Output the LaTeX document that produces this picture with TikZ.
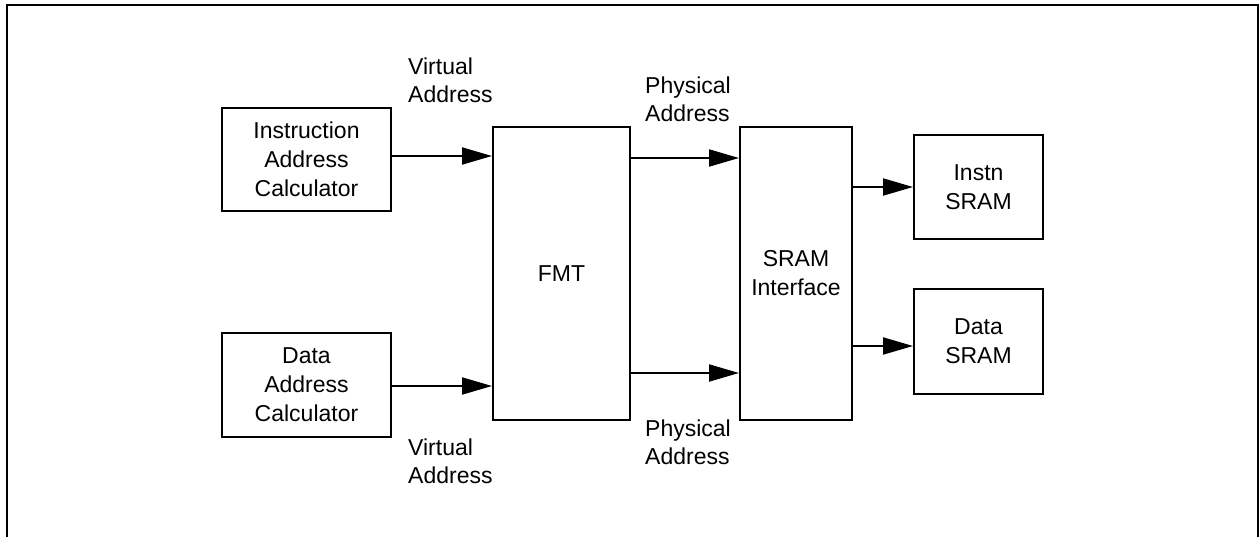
\documentclass[tikz,border=0pt]{standalone}
\usepackage{fontspec}
\setmainfont{Liberation Sans}
\usetikzlibrary{arrows.meta}
\begin{document}
\begin{tikzpicture}[x=1pt,y=-1pt,
  txt/.style={font=\fontsize{23}{28}\selectfont},
  blk/.style={draw,line width=2pt,inner sep=0pt,align=center,font=\fontsize{23}{29}\selectfont},
  lbl/.style={inner sep=0pt,align=left,anchor=base west,txt},
  arr/.style={line width=2pt,-{Triangle[length=30pt,width=17pt]}},
  frame/.style={line width=2pt}]
\useasboundingbox (0,0) rectangle (1259,537);
\coordinate (f1) at (6.5,560);
\coordinate (f2) at (6.5,5);
\coordinate (f3) at (1258,5);
\coordinate (f4) at (1258,560);
\draw[frame] (f1) -- (f2) -- (f3) -- (f4);

\node[blk,minimum width=169pt,minimum height=103pt] (instr) at (306.5,159.5) {Instruction\\Address\\Calculator};
\node[blk,minimum width=169pt,minimum height=104pt] (dcalc) at (306.5,385) {Data\\Address\\Calculator};
\node[blk,minimum width=137pt,minimum height=293pt] (fmt) at (561.5,273.5) {FMT};
\node[blk,minimum width=112pt,minimum height=293pt] (sram) at (796,273.5) {SRAM\\Interface};
\node[blk,minimum width=129pt,minimum height=104pt] (isram) at (978.5,187) {Instn\\SRAM};
\node[blk,minimum width=129pt,minimum height=105pt] (dsram) at (978.5,341.5) {Data\\SRAM};

\draw[arr] (instr.east |- 0,156) -- (fmt.west |- 0,156);
\draw[arr] (dcalc.east |- 0,386) -- (fmt.west |- 0,386);
\draw[arr] (fmt.east |- 0,158) -- (sram.west |- 0,158);
\draw[arr] (fmt.east |- 0,373) -- (sram.west |- 0,373);
\draw[arr] (sram.east |- 0,187) -- (isram.west |- 0,187);
\draw[arr] (sram.east |- 0,346) -- (dsram.west |- 0,346);

\node[lbl] (va1) at (408,103) {Virtual\\Address};
\node[lbl] (pa1) at (645,122) {Physical\\Address};
\node[lbl] (va2) at (408,483) {Virtual\\Address};
\node[lbl] (pa2) at (645,464) {Physical\\Address};
\end{tikzpicture}
\end{document}
